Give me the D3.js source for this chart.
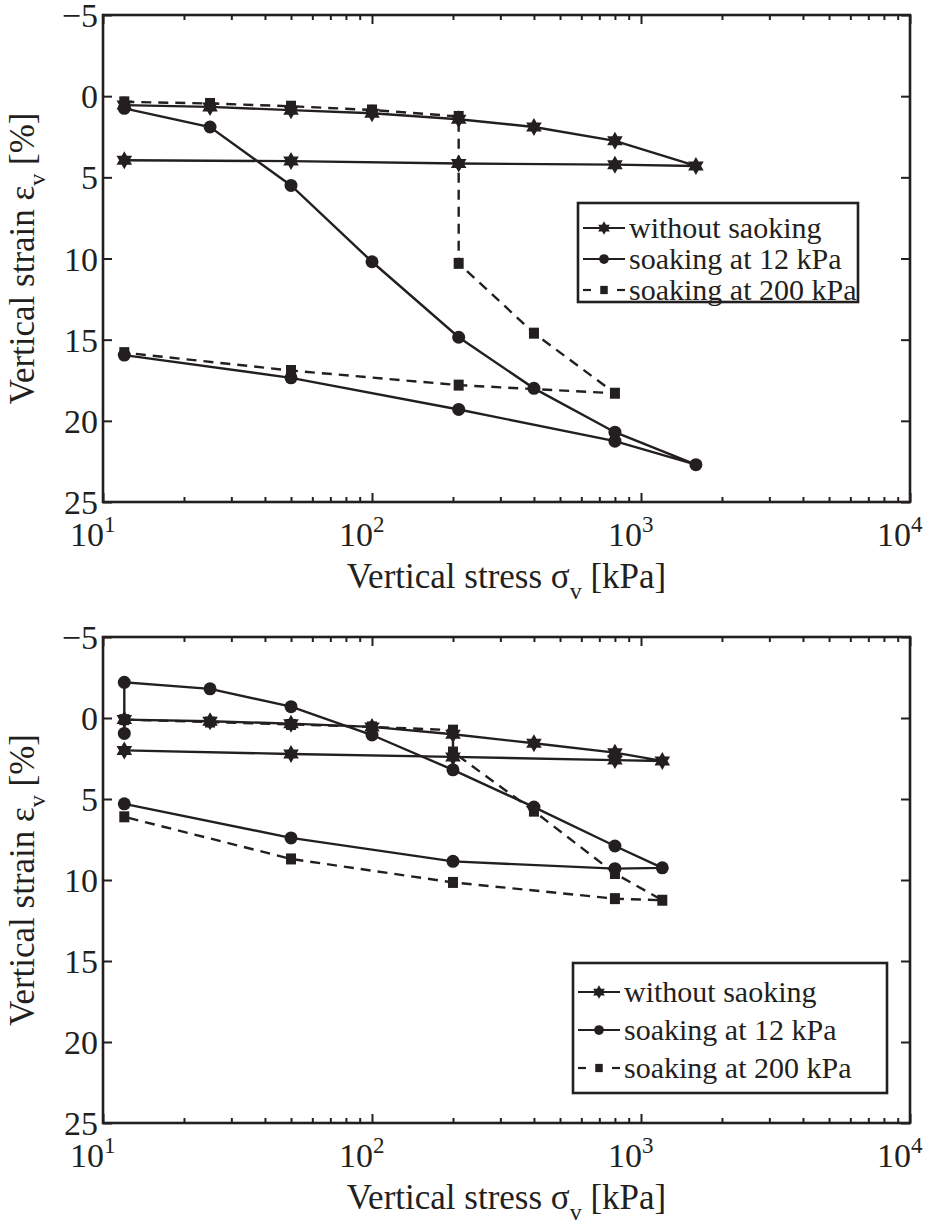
<!DOCTYPE html>
<html>
<head>
<meta charset="utf-8">
<script src="https://cdn.jsdelivr.net/npm/d3@7/dist/d3.min.js"></script>
<style>
  html, body { margin: 0; padding: 0; background: #fff; }
  svg { display: block; }
  text { font-family: "Liberation Serif", "Times New Roman", serif; fill: #231f20; }
</style>
</head>
<body>
<svg id="chart" width="936" height="1225"></svg>
<script>
// ---- Oedometer data: vertical stress [kPa] vs vertical strain [%] ----

// Panel 1
const aStarStress   = [12, 25, 50, 100, 210, 400, 800, 1600, 800, 210, 50, 12];
const aStarStrain   = [0.55, 0.66, 0.86, 1.05, 1.42, 1.9, 2.75, 4.3, 4.22, 4.15, 4.0, 3.95];
const aCircleStress = [12, 25, 50, 100, 210, 400, 800, 1600, 800, 210, 50, 12];
const aCircleStrain = [0.75, 1.9, 5.5, 10.2, 14.85, 18.0, 20.7, 22.7, 21.25, 19.3, 17.35, 15.95];
const aSquareStress = [12, 25, 50, 100, 210, 210, 400, 800, 210, 50, 12];
const aSquareStrain = [0.35, 0.45, 0.62, 0.85, 1.25, 10.3, 14.6, 18.3, 17.8, 16.9, 15.8];

// Panel 2
const bStarStress   = [12, 25, 50, 100, 200, 400, 800, 1200, 800, 200, 50, 12];
const bStarStrain   = [0.1, 0.2, 0.35, 0.55, 1.0, 1.56, 2.14, 2.65, 2.6, 2.4, 2.22, 2.0];
const bCircleStress = [12, 12, 25, 50, 100, 200, 400, 800, 1200, 800, 200, 50, 12];
const bCircleStrain = [0.95, -2.2, -1.8, -0.7, 1.05, 3.2, 5.5, 7.9, 9.25, 9.3, 8.85, 7.4, 5.3];
const bSquareStress = [12, 25, 50, 100, 200, 200, 400, 800, 1200, 800, 200, 50, 12];
const bSquareStrain = [0.1, 0.25, 0.4, 0.55, 0.75, 2.1, 5.75, 9.6, 11.25, 11.15, 10.15, 8.7, 6.1];

// Axes
const xDomain = [10, 10000];
const xMajor = [10, 100, 1000, 10000];
const xExponents = ["1", "2", "3", "4"];
const yDomain = [-5, 25];
const yTicks = [-5, 0, 5, 10, 15, 20, 25];

const seriesNames = ["without saoking", "soaking at 12 kPa", "soaking at 200 kPa"];

const INK = "#231f20";
const svg = d3.select("#chart");

// six-pointed star (two overlapping triangles)
function hexagram(r) {
  const pts = a => d3.range(3).map(i => {
    const t = a + i * 2 * Math.PI / 3;
    return [r * Math.sin(t), -r * Math.cos(t)];
  });
  const tri = p => "M" + p.map(q => q.join(",")).join("L") + "Z";
  return tri(pts(0)) + tri(pts(Math.PI));
}

function drawMarker(g, kind, cx, cy, scale) {
  const s = scale || 1;
  if (kind === "star") {
    g.append("path").attr("d", hexagram(9 * s))
      .attr("transform", `translate(${cx},${cy})`).attr("fill", INK);
  } else if (kind === "circle") {
    g.append("circle").attr("cx", cx).attr("cy", cy).attr("r", 6.5 * s).attr("fill", INK);
  } else {
    const w = 10 * s, h = 11 * s;
    g.append("rect").attr("x", cx - w / 2).attr("y", cy - h / 2)
      .attr("width", w).attr("height", h).attr("fill", INK);
  }
}

function panel(opt) {
  const { left, right, top, bottom, series, legend } = opt;
  const x = d3.scaleLog().domain(xDomain).range([left, right]);
  const y = d3.scaleLinear().domain(yDomain).range([top, bottom]);
  const g = svg.append("g");

  // minor log ticks
  const minor = [];
  xMajor.slice(0, -1).forEach(d => { for (let k = 2; k <= 9; k++) minor.push(d * k); });

  const styleAxis = sel => {
    sel.select(".domain").remove();
    sel.selectAll("line").attr("stroke", INK).attr("stroke-width", 2);
  };

  g.append("g").attr("transform", `translate(0,${bottom})`)
    .call(d3.axisBottom(x).tickValues(minor).tickSize(-5).tickFormat(""))
    .call(styleAxis);
  g.append("g").attr("transform", `translate(0,${top})`)
    .call(d3.axisTop(x).tickValues(minor).tickSize(-5).tickFormat(""))
    .call(styleAxis);
  g.append("g").attr("transform", `translate(0,${bottom})`)
    .call(d3.axisBottom(x).tickValues(xMajor).tickSize(-9).tickFormat(""))
    .call(styleAxis);
  g.append("g").attr("transform", `translate(0,${top})`)
    .call(d3.axisTop(x).tickValues(xMajor).tickSize(-9).tickFormat(""))
    .call(styleAxis);

  // y axes
  const yl = g.append("g").attr("transform", `translate(${left},0)`)
    .call(d3.axisLeft(y).tickValues(yTicks).tickSize(-9).tickPadding(5)
      .tickFormat(d => d < 0 ? "\u2212" + Math.abs(d) : String(d)))
    .call(styleAxis);
  yl.selectAll("text").attr("font-size", 34).attr("fill", INK)
    .attr("font-family", "Liberation Serif").attr("dy", "0.34em");
  g.append("g").attr("transform", `translate(${right},0)`)
    .call(d3.axisRight(y).tickValues(yTicks).tickSize(-9).tickFormat(""))
    .call(styleAxis);

  // x tick labels 10^n : base ends at the tick, exponent follows
  xMajor.forEach((d, i) => {
    g.append("text").attr("x", x(d) + 1).attr("y", bottom + 44)
      .attr("text-anchor", "end").attr("font-size", 34).text("10");
    g.append("text").attr("x", x(d) + 1).attr("y", bottom + 30)
      .attr("text-anchor", "start").attr("font-size", 23).text(xExponents[i]);
  });

  // axis titles
  const xt = g.append("text").attr("x", (left + right) / 2).attr("y", bottom + 86)
    .attr("text-anchor", "middle").attr("font-size", 35);
  xt.append("tspan").text("Vertical stress \u03c3");
  xt.append("tspan").attr("dy", 11).attr("font-size", 24).text("v");
  xt.append("tspan").attr("dy", -11).text(" [kPa]");

  const yt = g.append("text")
    .attr("transform", `translate(${left - 69},${(top + bottom) / 2}) rotate(-90)`)
    .attr("text-anchor", "middle").attr("font-size", 35);
  yt.append("tspan").text("Vertical strain \u03b5");
  yt.append("tspan").attr("dy", 11).attr("font-size", 24).text("v");
  yt.append("tspan").attr("dy", -11).text(" [%]");

  // data
  const plot = g.append("g");
  series.forEach(s => {
    const pts = s.stress.map((v, i) => [x(v), y(s.strain[i])]);
    plot.append("path").attr("d", d3.line()(pts)).attr("fill", "none")
      .attr("stroke", INK).attr("stroke-width", 2.4)
      .attr("stroke-dasharray", s.dash ? "10,7" : null);
    pts.forEach(p => drawMarker(plot, s.marker, p[0], p[1]));
  });

  // frame
  g.append("rect").attr("x", left).attr("y", top)
    .attr("width", right - left).attr("height", bottom - top)
    .attr("fill", "none").attr("stroke", INK).attr("stroke-width", 2.6);

  // legend
  const lg = g.append("g");
  lg.append("rect").attr("x", legend.x).attr("y", legend.y)
    .attr("width", legend.w).attr("height", legend.h)
    .attr("fill", "#fff").attr("stroke", INK).attr("stroke-width", 2.6);
  series.forEach((s, i) => {
    const cy = legend.y + legend.first + i * legend.step;
    const x0 = legend.x + 5, x1 = legend.x + 47;
    if (s.dash) {
      lg.append("line").attr("x1", x0).attr("x2", x0 + 8).attr("y1", cy).attr("y2", cy)
        .attr("stroke", INK).attr("stroke-width", 2.2);
      lg.append("line").attr("x1", x1 - 8).attr("x2", x1).attr("y1", cy).attr("y2", cy)
        .attr("stroke", INK).attr("stroke-width", 2.2);
    } else {
      lg.append("line").attr("x1", x0).attr("x2", x1).attr("y1", cy).attr("y2", cy)
        .attr("stroke", INK).attr("stroke-width", 2.2);
    }
    drawMarker(lg, s.marker, (x0 + x1) / 2, cy, 0.75);
    lg.append("text").attr("x", x1 + 4).attr("y", cy).attr("dy", "0.32em")
      .attr("font-size", legend.font).text(seriesNames[i]);
  });
}

panel({
  left: 103, right: 910, top: 15, bottom: 502,
  series: [
    { stress: aStarStress, strain: aStarStrain, marker: "star", dash: false },
    { stress: aCircleStress, strain: aCircleStrain, marker: "circle", dash: false },
    { stress: aSquareStress, strain: aSquareStrain, marker: "square", dash: true }
  ],
  legend: { x: 578, y: 203, w: 280, h: 99, first: 25, step: 31, font: 30 }
});

panel({
  left: 103, right: 910, top: 637, bottom: 1123,
  series: [
    { stress: bStarStress, strain: bStarStrain, marker: "star", dash: false },
    { stress: bCircleStress, strain: bCircleStrain, marker: "circle", dash: false },
    { stress: bSquareStress, strain: bSquareStrain, marker: "square", dash: true }
  ],
  legend: { x: 573, y: 963, w: 314, h: 130, first: 29, step: 38, font: 30 }
});
</script>
</body>
</html>
